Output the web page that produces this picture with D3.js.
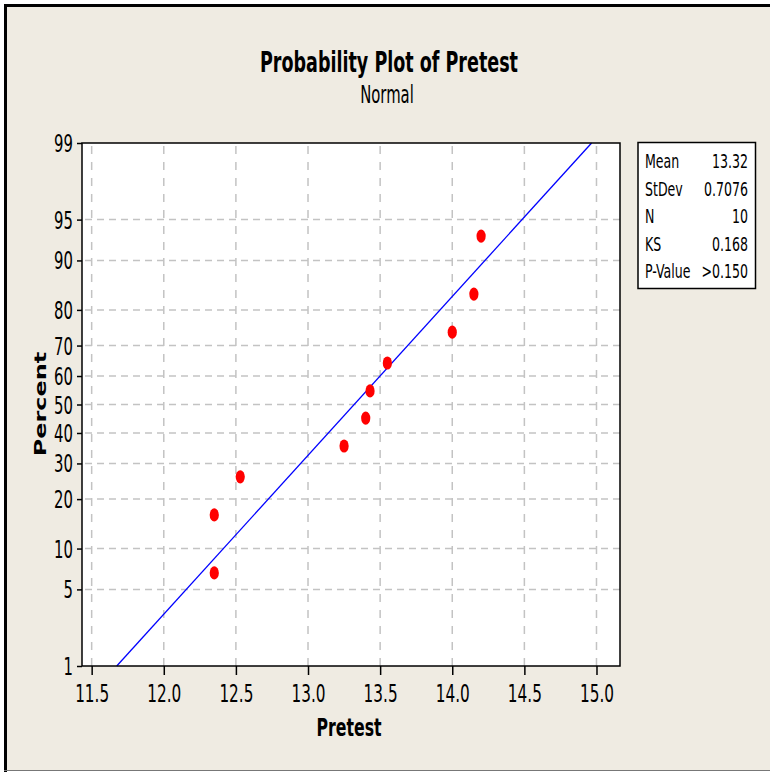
<!DOCTYPE html>
<html>
<head>
<meta charset="utf-8">
<script src="https://cdn.jsdelivr.net/npm/d3@7"></script>
<style>
  body { margin: 0; background: #fff; }
  text { font-family: "DejaVu Sans Condensed", "DejaVu Sans", sans-serif; font-stretch: condensed; fill: #000; }
</style>
</head>
<body>
<div id="chart"></div>
<script>
// data
var pretest = [12.35, 12.35, 12.53, 13.25, 13.40, 13.43, 13.55, 14.00, 14.15, 14.20];
var percent = [6.7, 16.3, 26.0, 35.6, 45.2, 54.8, 64.4, 74.0, 83.7, 93.3];
var xTicks = [11.5, 12.0, 12.5, 13.0, 13.5, 14.0, 14.5, 15.0];
var yTicks = [1, 5, 10, 20, 30, 40, 50, 60, 70, 80, 90, 95, 99];
var statNames = ["Mean", "StDev", "N", "KS", "P-Value"];
var statValues = ["13.32", "0.7076", "10", "0.168", ">0.150"];
var fitMean = 13.32, fitSd = 0.7076;
var fitEnds = [1, 99];

// inverse of the normal cdf (Acklam)
function qnorm(p) {
    var a = [-39.69683028665376, 220.9460984245205, -275.9285104469687, 138.3577518672690, -30.66479806614716, 2.506628277459239];
    var b = [-54.47609879822406, 161.5858368580409, -155.6989798598866, 66.80131188771972, -13.28068155288572];
    var c = [-0.007784894002430293, -0.3223964580411365, -2.400758277161838, -2.549732539343734, 4.374664141464968, 2.938163982698783];
    var d = [0.007784695709041462, 0.3224671290700398, 2.445134137142996, 3.754408661907416];
    var q, r;
    if (p < 0.02425) {
        q = Math.sqrt(-2 * Math.log(p));
        return (((((c[0]*q+c[1])*q+c[2])*q+c[3])*q+c[4])*q+c[5]) / ((((d[0]*q+d[1])*q+d[2])*q+d[3])*q+1);
    }
    if (p > 1 - 0.02425) {
        q = Math.sqrt(-2 * Math.log(1 - p));
        return -(((((c[0]*q+c[1])*q+c[2])*q+c[3])*q+c[4])*q+c[5]) / ((((d[0]*q+d[1])*q+d[2])*q+d[3])*q+1);
    }
    q = p - 0.5; r = q * q;
    return (((((a[0]*r+a[1])*r+a[2])*r+a[3])*r+a[4])*r+a[5])*q / (((((b[0]*r+b[1])*r+b[2])*r+b[3])*r+b[4])*r+1);
}

var W = 770, H = 772;
var sy = 1.45; // the picture is stretched vertically
var plot = {left: 82, right: 620, top: 143, bottom: 666};

var svg = d3.select("#chart").append("svg")
    .attr("width", W).attr("height", H);

// frame
svg.append("rect").attr("x", 4).attr("y", 4).attr("width", W - 4).attr("height", H - 5)
    .attr("fill", "#efebe2");
svg.append("line").attr("x1", 4).attr("x2", W).attr("y1", 5.5).attr("y2", 5.5)
    .attr("stroke", "#000").attr("stroke-width", 3);
svg.append("line").attr("x1", 5.5).attr("x2", 5.5).attr("y1", 4).attr("y2", H)
    .attr("stroke", "#000").attr("stroke-width", 3);
svg.append("line").attr("x1", 4).attr("x2", W).attr("y1", H - 1.5).attr("y2", H - 1.5)
    .attr("stroke", "#777").attr("stroke-width", 1);

var x = d3.scaleLinear().domain([11.433, 15.163]).range([plot.left, plot.right]);
var zScale = d3.scaleLinear().domain([qnorm(0.01), qnorm(0.99)]).range([plot.bottom, plot.top]);
var y = function(p) { return zScale(qnorm(p / 100)); };

svg.append("rect")
    .attr("x", plot.left).attr("y", plot.top)
    .attr("width", plot.right - plot.left).attr("height", plot.bottom - plot.top)
    .attr("fill", "#fff");

// grid
svg.append("g").selectAll("line")
    .data(xTicks).enter().append("line")
    .attr("x1", d => x(d)).attr("x2", d => x(d))
    .attr("y1", plot.top).attr("y2", plot.bottom)
    .attr("stroke", "#c3c3c3").attr("stroke-width", 1.5)
    .attr("stroke-dasharray", "8,8").attr("stroke-dashoffset", -3);
svg.append("g").selectAll("line")
    .data(yTicks.slice(1, -1)).enter().append("line")
    .attr("x1", plot.left).attr("x2", plot.right)
    .attr("y1", d => y(d)).attr("y2", d => y(d))
    .attr("stroke", "#c3c3c3").attr("stroke-width", 1.5)
    .attr("stroke-dasharray", "7,5").attr("stroke-dashoffset", -3);

// fitted line
svg.append("path")
    .datum(fitEnds)
    .attr("d", d3.line().x(d => x(fitMean + fitSd * qnorm(d / 100))).y(d => y(d)))
    .attr("fill", "none").attr("stroke", "#0000ff").attr("stroke-width", 1.3);

// points
svg.append("g").selectAll("ellipse")
    .data(pretest).enter().append("ellipse")
    .attr("cx", d => x(d)).attr("cy", (d, i) => y(percent[i]))
    .attr("rx", 4.6).attr("ry", 6.6)
    .attr("fill", "#ff0000");

// plot border
svg.append("rect")
    .attr("x", plot.left).attr("y", plot.top)
    .attr("width", plot.right - plot.left).attr("height", plot.bottom - plot.top)
    .attr("fill", "none").attr("stroke", "#000").attr("stroke-width", 1.5);

// axes
var xAxis = svg.append("g")
    .attr("transform", "translate(0," + plot.bottom + ")")
    .call(d3.axisBottom(x).tickValues(xTicks).tickFormat(d3.format(".1f")).tickSize(9).tickSizeOuter(0));
xAxis.select(".domain").remove();
xAxis.selectAll("line").attr("stroke", "#000").attr("stroke-width", 1.5);
xAxis.selectAll("text")
    .attr("x", 0).attr("y", 0).attr("dy", null)
    .attr("transform", "translate(0,36) scale(1," + sy + ")")
    .style("font-size", "17px").attr("fill", "#000");

var yAxis = svg.append("g")
    .attr("transform", "translate(" + plot.left + ",0)")
    .call(d3.axisLeft(zScale).tickValues(yTicks.map(d => qnorm(d / 100))).tickFormat((d, i) => yTicks[i]).tickSize(5).tickSizeOuter(0));
yAxis.select(".domain").remove();
yAxis.selectAll("line").attr("stroke", "#000").attr("stroke-width", 1.5);
yAxis.selectAll("text")
    .attr("x", 0).attr("y", 0).attr("dy", null)
    .attr("transform", "translate(-9,8.5) scale(1," + sy + ")")
    .style("font-size", "16.5px").attr("fill", "#000");

// titles
svg.append("text")
    .attr("transform", "translate(389,71.7) scale(1," + sy + ")")
    .attr("text-anchor", "middle")
    .style("font-size", "19.5px").style("font-weight", "bold")
    .text("Probability Plot of Pretest");
svg.append("text")
    .attr("transform", "translate(387,102.7) scale(1," + sy + ")")
    .attr("text-anchor", "middle")
    .style("font-size", "16.5px")
    .text("Normal");
svg.append("text")
    .attr("transform", "translate(349,736) scale(1," + sy + ")")
    .attr("text-anchor", "middle")
    .style("font-size", "17.5px").style("font-weight", "bold")
    .text("Pretest");
svg.append("text")
    .attr("transform", "translate(46,404) rotate(-90) scale(" + sy + ",1)")
    .attr("text-anchor", "middle")
    .style("font-family", "'DejaVu Sans', sans-serif").style("font-stretch", "normal")
    .style("font-size", "16.5px").style("font-weight", "bold")
    .text("Percent");

// statistics box
var box = svg.append("g");
box.append("rect")
    .attr("x", 638).attr("y", 142.5).attr("width", 117.5).attr("height", 146)
    .attr("fill", "#fff").attr("stroke", "#000").attr("stroke-width", 1.5);
var row = d3.scaleLinear().domain([0, statNames.length - 1]).range([168, 278]);
box.selectAll(".sname").data(statNames).enter().append("text")
    .attr("class", "sname")
    .attr("transform", (d, i) => "translate(645," + row(i) + ") scale(1," + sy + ")")
    .style("font-size", "14px")
    .text(d => d);
box.selectAll(".sval").data(statValues).enter().append("text")
    .attr("class", "sval")
    .attr("transform", (d, i) => "translate(748," + row(i) + ") scale(1," + sy + ")")
    .attr("text-anchor", "end")
    .style("font-size", "14px")
    .text(d => d);
</script>
</body>
</html>
